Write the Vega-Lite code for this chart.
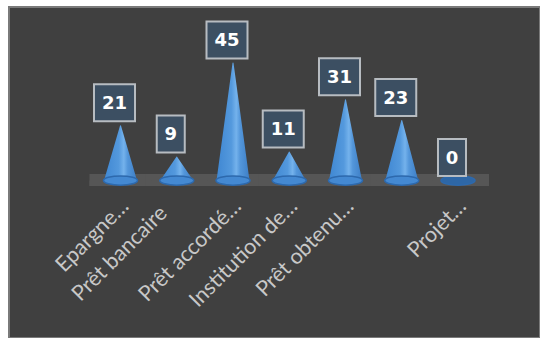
{
  "$schema": "https://vega.github.io/schema/vega-lite/v6.json",
  "width": 531,
  "height": 331,
  "autosize": {"type": "none"},
  "padding": {"left": 9, "top": 7, "right": 0, "bottom": 0},
  "background": "#ffffff",
  "config": {"view": {"fill": "#404040", "stroke": "#7a7a7a", "strokeWidth": 2}},
  "datasets": {
    "cones": [
      {"cat": "Epargne…", "value": 21},
      {"cat": "Prêt bancaire", "value": 9},
      {"cat": "Prêt accordé…", "value": 45},
      {"cat": "Institution de…", "value": 11},
      {"cat": "Prêt obtenu…", "value": 31},
      {"cat": " ", "value": 23},
      {"cat": "Projet…", "value": 0}
    ]
  },
  "data": {"name": "cones"},
  "encoding": {
    "x": {
      "field": "cat",
      "type": "nominal",
      "sort": null,
      "scale": {"type": "point", "padding": 0, "range": [111.5, 449]},
      "axis": {
        "title": null,
        "domain": false,
        "ticks": false,
        "grid": false,
        "labelAngle": -45,
        "labelAlign": "right",
        "labelBaseline": "alphabetic",
        "labelFont": "Lato",
        "labelFontSize": 21.5,
        "labelColor": "#c8c8c8",
        "labelPadding": {"condition": {"test": "datum.value === 'Prêt bancaire'", "value": 8}, "value": 1},
        "offset": -132,
        "labelOffset": {"condition": {"test": "datum.value === 'Prêt bancaire'", "value": -9}, "value": 9},
        "labelLimit": 300,
        "zindex": 1
      }
    }
  },
  "layer": [
    {
      "mark": {"type": "tick", "size": 62, "thickness": 12, "color": "#565656", "opacity": 1, "yOffset": -0.5},
      "encoding": {
        "y": {"datum": 0, "type": "quantitative", "scale": {"domain": [-60.3, 66.5], "nice": false, "zero": false}, "axis": null}
      }
    },
    {
      "transform": [
        {"filter": "datum.value > 0"},
        {"fold": ["value"], "as": ["part", "v"]},
        {"impute": "v", "key": "part", "keyvals": ["base", "value"], "groupby": ["cat"], "value": 0}
      ],
      "mark": {
        "type": "trail",
        "color": {
          "gradient": "linear",
          "x1": 0, "y1": 0, "x2": 1, "y2": 0,
          "stops": [
            {"offset": 0, "color": "#3f87d2"},
            {"offset": 0.45, "color": "#5499dd"},
            {"offset": 0.6, "color": "#74b2ec"},
            {"offset": 0.72, "color": "#5396da"},
            {"offset": 1, "color": "#3d7ec6"}
          ]
        }
      },
      "encoding": {
        "y": {"field": "v", "type": "quantitative", "scale": {"domain": [-60.3, 66.5], "nice": false, "zero": false}, "axis": null},
        "size": {"field": "part", "type": "ordinal", "scale": {"domain": ["base", "value"], "range": [33, 0]}, "legend": null},
        "detail": {"field": "cat"},
        "order": {"field": "part"}
      }
    },
    {
      "mark": {"type": "tick", "size": 38, "thickness": 19, "color": "#404040", "opacity": 1, "yOffset": 10},
      "encoding": {
        "y": {"datum": 0, "type": "quantitative", "scale": {"domain": [-60.3, 66.5], "nice": false, "zero": false}, "axis": null}
      }
    },
    {
      "mark": {"type": "tick", "size": 62, "thickness": 5.5, "color": "#565656", "opacity": 1, "yOffset": 2.75},
      "encoding": {
        "y": {"datum": 0, "type": "quantitative", "scale": {"domain": [-60.3, 66.5], "nice": false, "zero": false}, "axis": null}
      }
    },
    {
      "mark": {"type": "point", "filled": true, "opacity": 1, "size": 1156, "shape": "M-1,0 A1,0.27 0 1,0 1,0 A1,0.27 0 1,0 -1,0 Z", "stroke": "#2d69ad", "strokeWidth": 1.5},
      "encoding": {
        "y": {"datum": 0, "type": "quantitative", "scale": {"domain": [-60.3, 66.5], "nice": false, "zero": false}, "axis": null},
        "fill": {"condition": {"test": "datum.value == 0", "value": "#2e67a6"}, "value": "#4489d2"}
      }
    },
    {
      "mark": {"type": "point", "filled": true, "opacity": 1, "size": 1369, "fill": "#3c4f62", "stroke": "#b7bcc1", "strokeWidth": 2, "xOffset": -6, "yOffset": -23},
      "encoding": {
        "y": {"field": "value", "type": "quantitative", "scale": {"domain": [-60.3, 66.5], "nice": false, "zero": false}, "axis": null},
        "shape": {"condition": {"test": "datum.value < 10", "value": "M-0.757,-1 L0.757,-1 L0.757,1 L-0.757,1 Z"}, "value": "M-1.108,-1 L1.108,-1 L1.108,1 L-1.108,1 Z"}
      }
    },
    {
      "mark": {"type": "text", "font": "DejaVu Sans", "fontWeight": "bold", "fontSize": 18, "color": "#ffffff", "align": "center", "baseline": "middle", "xOffset": -6, "yOffset": -22},
      "encoding": {
        "y": {"field": "value", "type": "quantitative", "scale": {"domain": [-60.3, 66.5], "nice": false, "zero": false}, "axis": null},
        "text": {"field": "value", "type": "quantitative"}
      }
    }
  ]
}
